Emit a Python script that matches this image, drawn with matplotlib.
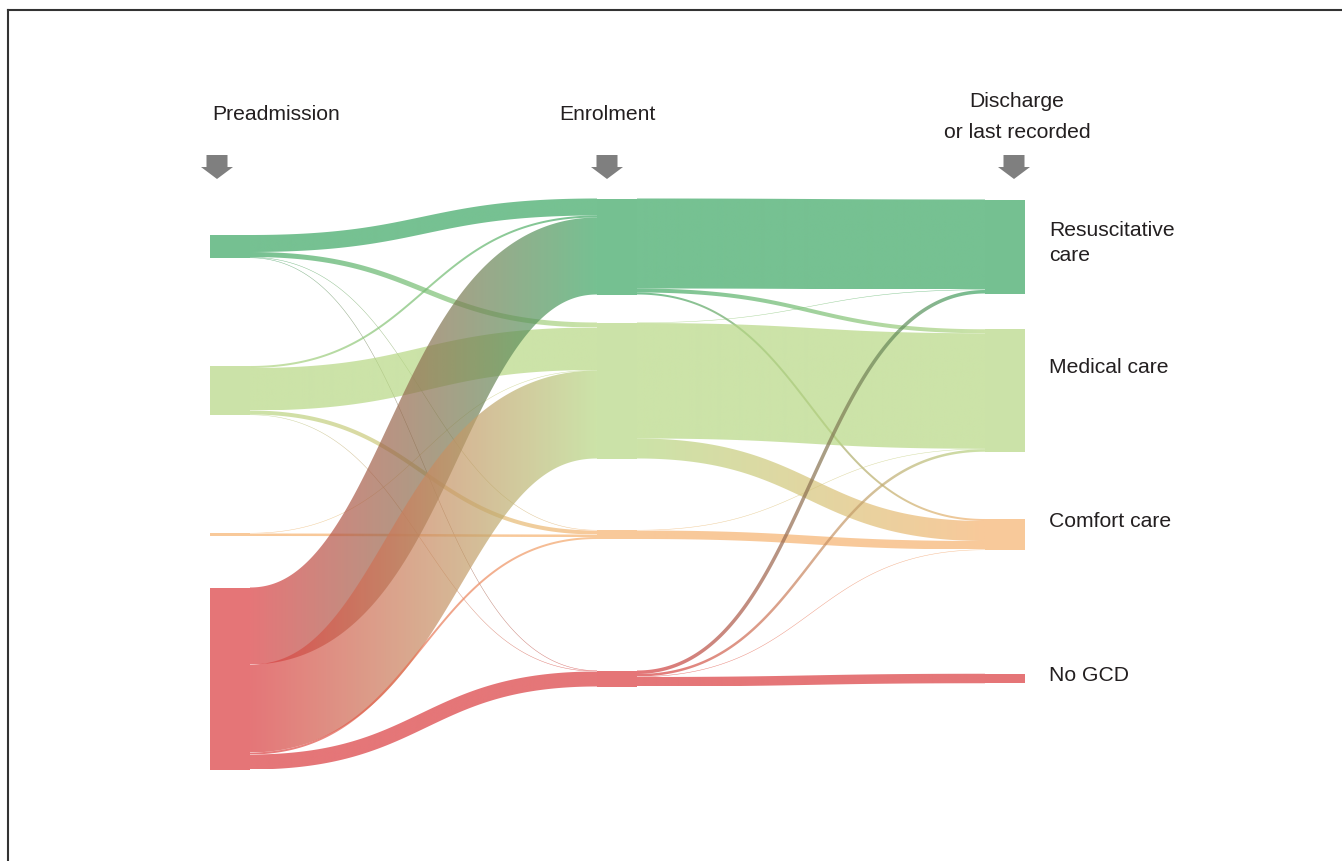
import matplotlib

matplotlib.use("Agg")
import matplotlib.pyplot as plt
import numpy as np
from matplotlib.colors import to_rgb
from matplotlib.lines import Line2D
from matplotlib.patches import Polygon, Rectangle

stages = ["Preadmission", "Enrolment", "Discharge\nor last recorded"]
categories = ["Resuscitative\ncare", "Medical care", "Comfort care", "No GCD"]
category_colors = ["#3ba663", "#b6d783", "#f6b26f", "#da3b3e"]

# rows: goal of care at preadmission, columns: goal of care at enrolment
pre_to_enrol = [
    [17, 5, 0.5, 0.5],
    [2, 42.5, 4, 0.5],
    [0, 0.5, 2.5, 0],
    [77, 88, 2, 15],
]
# rows: goal of care at enrolment, columns: at discharge or last recorded
enrol_to_discharge = [
    [90, 4, 2, 0],
    [0.5, 115.5, 20, 0],
    [0, 0.5, 8.5, 0],
    [3.5, 2.5, 0.5, 9.5],
]

W, H = 1342, 862
COL_X = [210, 597, 985]
NODE_W = 40
ROW_TOP = 247.5
ROW_STEP = 144
ALPHA = 0.7
TEXT_COLOR = "#231f20"
FONT = ["Liberation Sans", "DejaVu Sans"]


def draw_link(ax, x0, y0, x1, y1, width, c0, c1):
    t = np.linspace(0.0, 1.0, 240)
    xm = (x0 + x1) / 2
    bx = (1 - t) ** 3 * x0 + 3 * (1 - t) ** 2 * t * xm + 3 * (1 - t) * t ** 2 * xm + t ** 3 * x1
    by = (1 - t) ** 3 * y0 + 3 * (1 - t) ** 2 * t * y0 + 3 * (1 - t) * t ** 2 * y1 + t ** 3 * y1
    dx = 3 * (xm - x0) * ((1 - t) ** 2 + t ** 2)
    dy = 6 * (1 - t) * t * (y1 - y0)
    norm = np.hypot(dx, dy)
    nx, ny = -dy / norm, dx / norm
    half = width / 2
    top = np.column_stack([bx + nx * half, by + ny * half])
    bot = np.column_stack([bx - nx * half, by - ny * half])
    poly = np.vstack([top, bot[::-1]])
    patch = Polygon(poly, closed=True, facecolor="none", edgecolor="none")
    ax.add_patch(patch)

    frac = np.linspace(0.0, 1.0, 256)[:, None]
    grad = np.zeros((2, 256, 4))
    grad[..., :3] = (1 - frac) * np.array(c0) + frac * np.array(c1)
    grad[..., 3] = ALPHA
    im = ax.imshow(
        grad,
        extent=(x0, x1, poly[:, 1].max(), poly[:, 1].min()),
        aspect="auto",
        interpolation="bilinear",
        zorder=2,
    )
    im.set_clip_path(patch)


def main():
    fig = plt.figure(figsize=(W / 100, H / 100), dpi=100)
    ax = fig.add_axes([0, 0, 1, 1])
    ax.axis("off")

    m1 = np.array(pre_to_enrol, dtype=float)
    m2 = np.array(enrol_to_discharge, dtype=float)
    totals = [m1.sum(axis=1), m1.sum(axis=0), m2.sum(axis=0)]
    centers = ROW_TOP + ROW_STEP * np.arange(len(categories))
    tops = [centers - tot / 2 for tot in totals]
    colors = [to_rgb(c) for c in category_colors]

    # nodes
    for x, tot, top in zip(COL_X, totals, tops):
        for i in range(len(categories)):
            ax.add_patch(Rectangle((x, top[i]), NODE_W, tot[i], facecolor=colors[i],
                                   edgecolor="none", alpha=ALPHA, zorder=3))

    # links, stacked by target at the source and by source at the target
    n = len(categories)
    for step, matrix in enumerate([m1, m2]):
        x0 = COL_X[step] + NODE_W
        x1 = COL_X[step + 1]
        out_off = tops[step].copy()
        in_off = tops[step + 1].copy()
        starts = np.zeros((n, n))
        ends = np.zeros((n, n))
        for i in range(n):
            for j in range(n):
                starts[i, j] = out_off[i] + matrix[i, j] / 2
                out_off[i] += matrix[i, j]
        for j in range(n):
            for i in range(n):
                ends[i, j] = in_off[j] + matrix[i, j] / 2
                in_off[j] += matrix[i, j]
        for i in range(n):
            for j in range(n):
                if matrix[i, j] > 0:
                    draw_link(ax, x0, starts[i, j], x1, ends[i, j], matrix[i, j],
                              colors[i], colors[j])

    # column headers with arrows
    header_x = [276, 607, 1017]
    header_y = [115, 115, 117]
    arrow_x = [217, 607, 1014]
    for label, hx, hy, axx in zip(stages, header_x, header_y, arrow_x):
        ax.text(hx, hy, label, ha="center", va="center", fontsize=15.2,
                color=TEXT_COLOR, family=FONT, linespacing=1.75)
        shaft, head = 10.5, 16
        ax.add_patch(Polygon(
            [(axx - shaft, 156), (axx + shaft, 156), (axx + shaft, 168), (axx + head, 168),
             (axx, 180), (axx - head, 168), (axx - shaft, 168)],
            closed=True, facecolor="#7f7f7f", edgecolor="none", zorder=4))

    label_y = [243, 368, 522, 676]
    for label, ly in zip(categories, label_y):
        ax.text(1049, ly, label, ha="left", va="center", fontsize=15.2,
                color=TEXT_COLOR, family=FONT, linespacing=1.36)

    # frame lines (top and left only)
    ax.add_line(Line2D([7.5, W], [10.5, 10.5], color="#333333", lw=1.5))
    ax.add_line(Line2D([7.5, 7.5], [10.5, H], color="#333333", lw=1.5))

    ax.set_xlim(0, W)
    ax.set_ylim(H, 0)
    fig.savefig("out.png", dpi=100, facecolor="white")
    plt.close(fig)


if __name__ == "__main__":
    main()
